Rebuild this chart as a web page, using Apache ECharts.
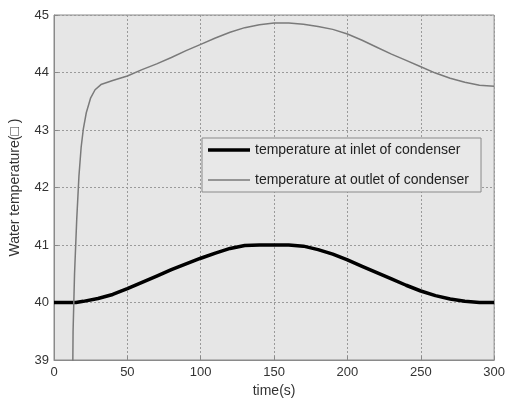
<!DOCTYPE html>
<html>
<head>
<meta charset="utf-8">
<script src="https://cdn.jsdelivr.net/npm/echarts@6/dist/echarts.min.js"></script>
<style>
html,body{margin:0;padding:0;background:#fff;}
#chart{width:508px;height:403px;}
</style>
</head>
<body>
<div id="chart"></div>
<script>
var xTicks = [0, 50, 100, 150, 200, 250, 300];
var yTicks = [39, 40, 41, 42, 43, 44, 45];
var seriesNames = ['temperature at inlet of condenser', 'temperature at outlet of condenser'];

var inletTime = [0, 10, 15, 20, 30, 40, 50, 60, 70, 80, 90, 100, 110, 120, 130, 140, 150, 160, 170, 180, 190, 200, 210, 220, 230, 240, 250, 260, 270, 280, 290, 300];
var inletTemp = [40, 40, 40.0, 40.02, 40.07, 40.14, 40.24, 40.35, 40.46, 40.57, 40.67, 40.77, 40.86, 40.94, 40.99, 41.0, 41.0, 41.0, 40.98, 40.92, 40.84, 40.74, 40.63, 40.52, 40.41, 40.30, 40.20, 40.12, 40.06, 40.02, 40.0, 40.0];

var outletTime = [12.5, 13, 14, 15.5, 17, 18.5, 20, 22, 25, 28, 32, 40, 50, 60, 70, 80, 90, 100, 110, 120, 130, 140, 150, 160, 170, 180, 190, 200, 210, 220, 230, 240, 250, 260, 270, 280, 290, 300];
var outletTemp = [38, 39.5, 40.5, 41.45, 42.2, 42.7, 43.02, 43.3, 43.56, 43.7, 43.79, 43.86, 43.94, 44.05, 44.15, 44.26, 44.38, 44.49, 44.6, 44.7, 44.78, 44.83, 44.86, 44.86, 44.84, 44.8, 44.75, 44.67, 44.56, 44.44, 44.32, 44.21, 44.1, 43.99, 43.9, 43.83, 43.78, 43.76];

function zip(a, b) { return a.map(function (v, i) { return [v, b[i]]; }); }

var chart = echarts.init(document.getElementById('chart'), null, {renderer: 'canvas'});
var font = 'Liberation Sans, Arial, sans-serif';
chart.setOption({
  animation: false,
  backgroundColor: '#ffffff',
  grid: {
    left: 53, top: 15, right: 9, bottom: 41,
    show: true, backgroundColor: '#e6e6e6', borderColor: '#8a8a8a', borderWidth: 1
  },
  legend: {
    data: [
      {name: seriesNames[0], icon: 'path://M0,0H42V3.5H0Z'},
      {name: seriesNames[1], icon: 'path://M0,0H42V1.4H0Z'}
    ],
    orient: 'vertical',
    left: 202, top: 138,
    padding: [5, 12, 5, 6],
    itemGap: 16,
    itemWidth: 42, itemHeight: 14,
    symbolKeepAspect: true,
    backgroundColor: '#e8e8e8',
    borderColor: '#8a8a8a', borderWidth: 1,
    textStyle: {fontFamily: font, fontSize: 14, color: '#222'}
  },
  xAxis: {
    type: 'value', min: xTicks[0], max: xTicks[xTicks.length - 1], interval: 50,
    name: 'time(s)', nameLocation: 'middle', nameGap: 24,
    nameTextStyle: {fontFamily: font, fontSize: 14, color: '#333'},
    axisLine: {show: true, lineStyle: {color: '#8a8a8a'}},
    axisTick: {show: true, inside: true, length: 4, lineStyle: {color: '#8a8a8a'}},
    axisLabel: {fontFamily: font, fontSize: 13, color: '#333', margin: 6},
    splitLine: {show: true, lineStyle: {color: '#9a9a9a', type: [2, 2], width: 1}}
  },
  yAxis: {
    type: 'value', min: yTicks[0], max: yTicks[yTicks.length - 1], interval: 1,
    name: 'Water temperature(\u25A1 )', nameLocation: 'middle', nameGap: 32, nameRotate: 90,
    nameTextStyle: {fontFamily: font, fontSize: 14, color: '#333'},
    axisLine: {show: true, lineStyle: {color: '#8a8a8a'}},
    axisTick: {show: true, inside: true, length: 4, lineStyle: {color: '#8a8a8a'}},
    axisLabel: {fontFamily: font, fontSize: 13, color: '#333', margin: 5},
    splitLine: {show: true, lineStyle: {color: '#9a9a9a', type: [2, 2], width: 1}}
  },
  series: [
    {
      name: seriesNames[0], type: 'line', data: zip(inletTime, inletTemp),
      symbol: 'none', smooth: false, clip: true,
      lineStyle: {color: '#000000', width: 3.5, join: 'round'},
      itemStyle: {color: '#000000'}
    },
    {
      name: seriesNames[1], type: 'line', data: zip(outletTime, outletTemp),
      symbol: 'none', smooth: false, clip: true,
      lineStyle: {color: '#7a7a7a', width: 1.5, join: 'round'},
      itemStyle: {color: '#7a7a7a'}
    }
  ]
});
</script>
</body>
</html>
